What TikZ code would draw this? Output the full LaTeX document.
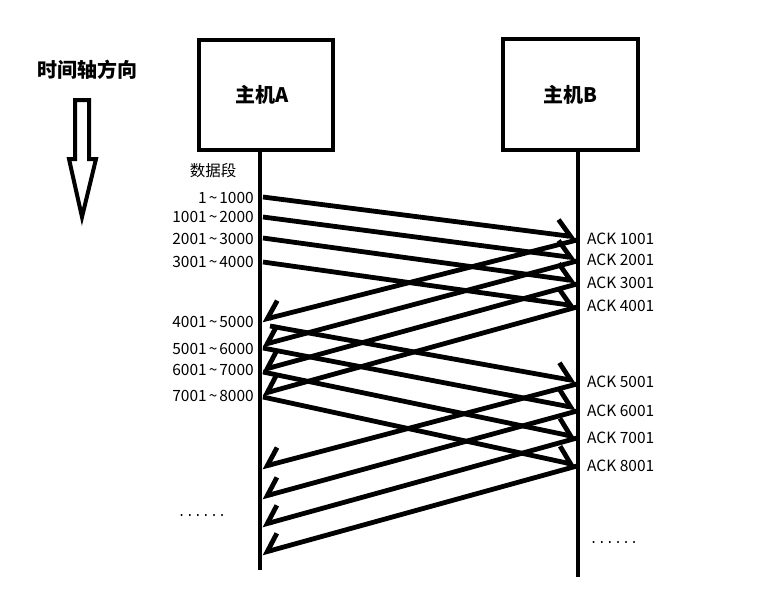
\documentclass[tikz,border=0pt]{standalone}
\usepackage{fontspec}
\setmainfont{Noto Sans CJK SC}
\newfontfamily\dotfont{Liberation Mono}
\usetikzlibrary{arrows.meta}

\newcommand\tl{\kern2pt\textasciitilde\kern2pt}

\tikzset{
	host/.style={draw, line width=4pt, inner sep=0pt, font=\bfseries\fontsize{20}{24}\selectfont},
	life/.style={line width=4.8pt},
	seg/.style={line width=4.8pt, -{Straight Barb[harpoon,left,length=14pt,width=30pt]}},
	ack/.style={line width=4.8pt, -{Straight Barb[harpoon,right,length=14pt,width=30pt]}},
	lbl/.style={font=\fontsize{15.5}{18}\selectfont, inner sep=0pt},
	dots/.style={font=\dotfont\fontsize{13.5}{16}\selectfont, inner sep=0pt},
}

\begin{document}
\begin{tikzpicture}[x=1pt, y=-1pt]
		\useasboundingbox (0,0) rectangle (778,608);

		% time axis
		\node[font=\bfseries\fontsize{20}{24}\selectfont] (axis) at (87,70) {时间轴方向};
		\draw[line width=4pt, line join=miter] (75,100) -- (89,100) -- (89,159) -- (96,159)
			-- (82,217) -- (69,159) -- (75,159) -- cycle;

		% hosts
		\node[host, minimum width=134pt, minimum height=110pt] (A) at (266,95) {\raisebox{-5pt}{主机A}\hspace*{8pt}};
		\node[host, minimum width=135pt, minimum height=111pt] (B) at (570.5,94.5) {主机B};

		\coordinate (Aend) at (260,570);
		\coordinate (Bend) at (578,577);
		\draw[life] (Aend |- A.south) -- (Aend);
		\draw[life] (Bend |- B.south) -- (Bend);

		\node[lbl] (seg) at (213,171) {数据段};

		% data segments A -> B
		\foreach \n/\xa/\ya/\yb in {1/263/197/237, 2/263/217/258, 3/263/238/281, 4/263/262/306,
				5/270/326/381, 6/263/348/408, 7/263/372/437, 8/263/397/465} {
			\coordinate (d\n a) at (\xa,\ya);
			\coordinate (d\n b) at (576,\yb);
			\draw[seg] (d\n a) -- (d\n b);
		}
		\foreach \n/\y/\txt in {1/198/1\tl1000, 2/217/1001\tl2000, 3/239/2001\tl3000,
				4/262/3001\tl4000, 5/322/4001\tl5000, 6/349/5001\tl6000,
				7/370/6001\tl7000, 8/396/7001\tl8000}
			\node[lbl, anchor=east] (l\n) at (254,\y) {\txt};

		% acknowledgements B -> A
		\foreach \n/\ya/\yb in {1/240/320, 2/261/345, 3/284/370, 4/307/394,
				5/384/467, 6/411/497, 7/438/525, 8/466/553} {
			\coordinate (k\n b) at (577,\ya);
			\coordinate (k\n a) at (262,\yb);
			\draw[ack] (k\n b) -- (k\n a);
		}
		\foreach \n/\y in {1/239, 2/260, 3/283, 4/306, 5/382, 6/411, 7/438, 8/466}
			\node[lbl, anchor=west] (r\n) at (587,\y) {ACK \the\numexpr\n*1000+1\relax};

		\node[dots] (moreA) at (202,516) {......};
		\node[dots] (moreB) at (614,543) {......};
	\end{tikzpicture}
\end{document}
